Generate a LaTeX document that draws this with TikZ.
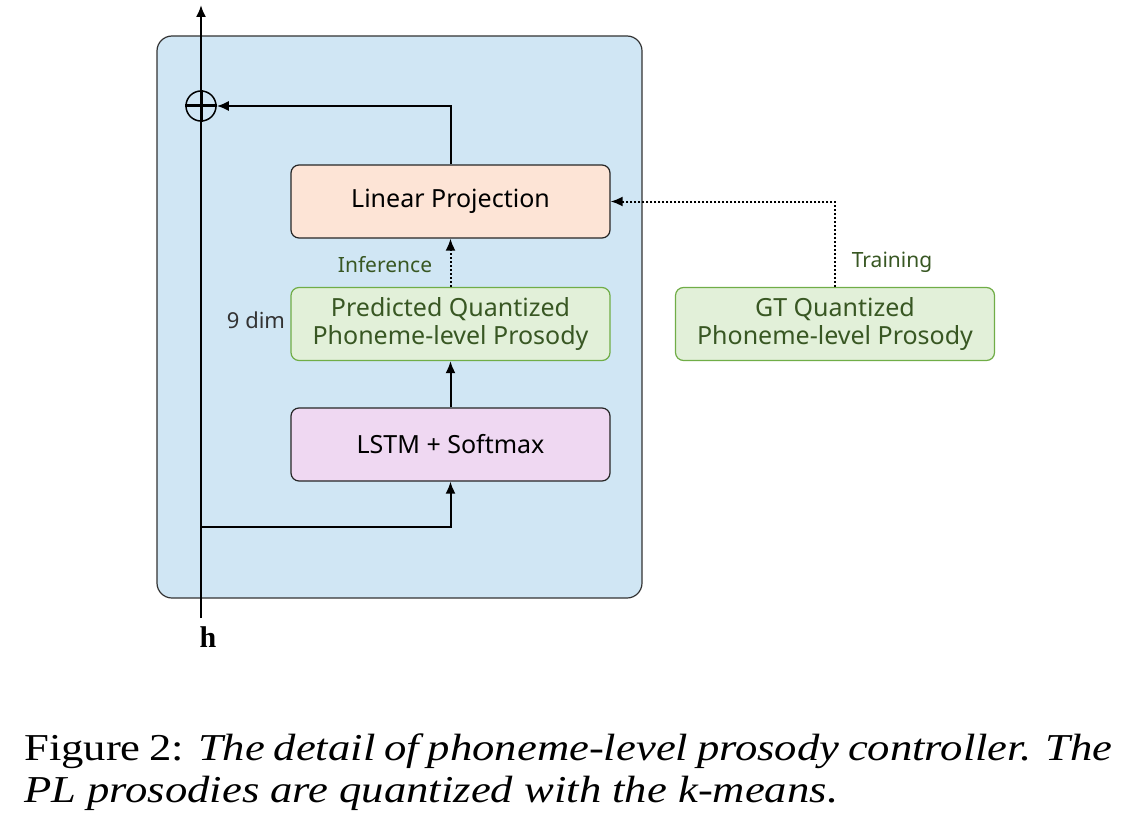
\documentclass[tikz,border=0pt]{standalone}
\usepackage{fontspec}
\setmainfont{Liberation Serif}
\newfontfamily\diagfont{Noto Sans}
\usetikzlibrary{calc,arrows.meta}

\definecolor{ctrlblue}{RGB}{208,230,244}
\definecolor{projpeach}{RGB}{253,228,214}
\definecolor{prosfill}{RGB}{226,240,217}
\definecolor{prosedge}{RGB}{112,173,71}
\definecolor{prostext}{RGB}{56,87,35}
\definecolor{lstmpink}{RGB}{239,216,242}

\tikzset{
  block/.style={draw=black!85, line width=1.2pt, rounded corners=8pt,
    minimum width=319pt, minimum height=73pt, inner sep=0pt, align=center,
    font=\diagfont\fontsize{25}{28}\selectfont},
  prosbox/.style={block, draw=prosedge, fill=prosfill, text=prostext},
  flow/.style={line width=2pt, -{Latex[length=12pt,width=10pt]}},
  dotflow/.style={flow, dash pattern=on 2pt off 2pt},
  tag/.style={font=\diagfont\fontsize{21}{24}\selectfont}
}

\begin{document}
\begin{tikzpicture}[x=1pt,y=-1pt]
      \useasboundingbox (0,0) rectangle (1132,832);

      % controller background
      \path[fill=ctrlblue, draw=black!80, line width=1.2pt, rounded corners=15pt]
        (157,36) rectangle (642,598);

      \node[block, fill=projpeach] (proj) at (450.5,201.5) {Linear Projection};
      \node[prosbox] (pred) at (450.5,324) {Predicted Quantized\\Phoneme-level Prosody};
      \node[block, fill=lstmpink] (lstm) at (450.5,444.5) {LSTM + Softmax};
      \node[prosbox] (gt) at (835,324) {GT Quantized\\Phoneme-level Prosody};

      \node[circle, draw, line width=1.5pt, minimum size=30pt, inner sep=0pt] (add) at (201,106) {};
      \draw[line width=3pt] (add.west) -- (add.east);
      \draw[line width=3pt] (add.north) -- (add.south);

      \coordinate (hin) at (201,618);
      \coordinate (hout) at (201,5);
      \coordinate (split) at (201,527);
      \node[font=\bfseries\fontsize{30}{30}\selectfont] (hlabel) at (208,637) {h};

      \draw[flow] (hin) -- (hout);
      \draw[flow] (split) -| (lstm.south);
      \draw[flow] (lstm) -- (pred);
      \draw[dotflow] (pred) -- (proj);
      \draw[flow] (proj.north) |- (add.east);
      \draw[dotflow] (gt.north) |- (proj.east);

      \node[tag, text=prostext] (inflabel) at (385,265) {Inference};
      \node[tag, text=prostext] (trainlabel) at (892,262) {Training};
      \node[tag, text=black!80, font=\diagfont\fontsize{22}{24}\selectfont] (dimlabel) at (256,320) {9 dim};

      \node[anchor=base west, inner sep=0pt, font=\fontsize{38}{42}\selectfont] (caption) at (24,760)
        {\scalebox{1.175}[1]{\parbox[t]{926pt}{Figure 2: \textit{The detail of phoneme-level prosody controller. The\linebreak
         PL prosodies are quantized with the k-means.}}}};
    \end{tikzpicture}
\end{document}
